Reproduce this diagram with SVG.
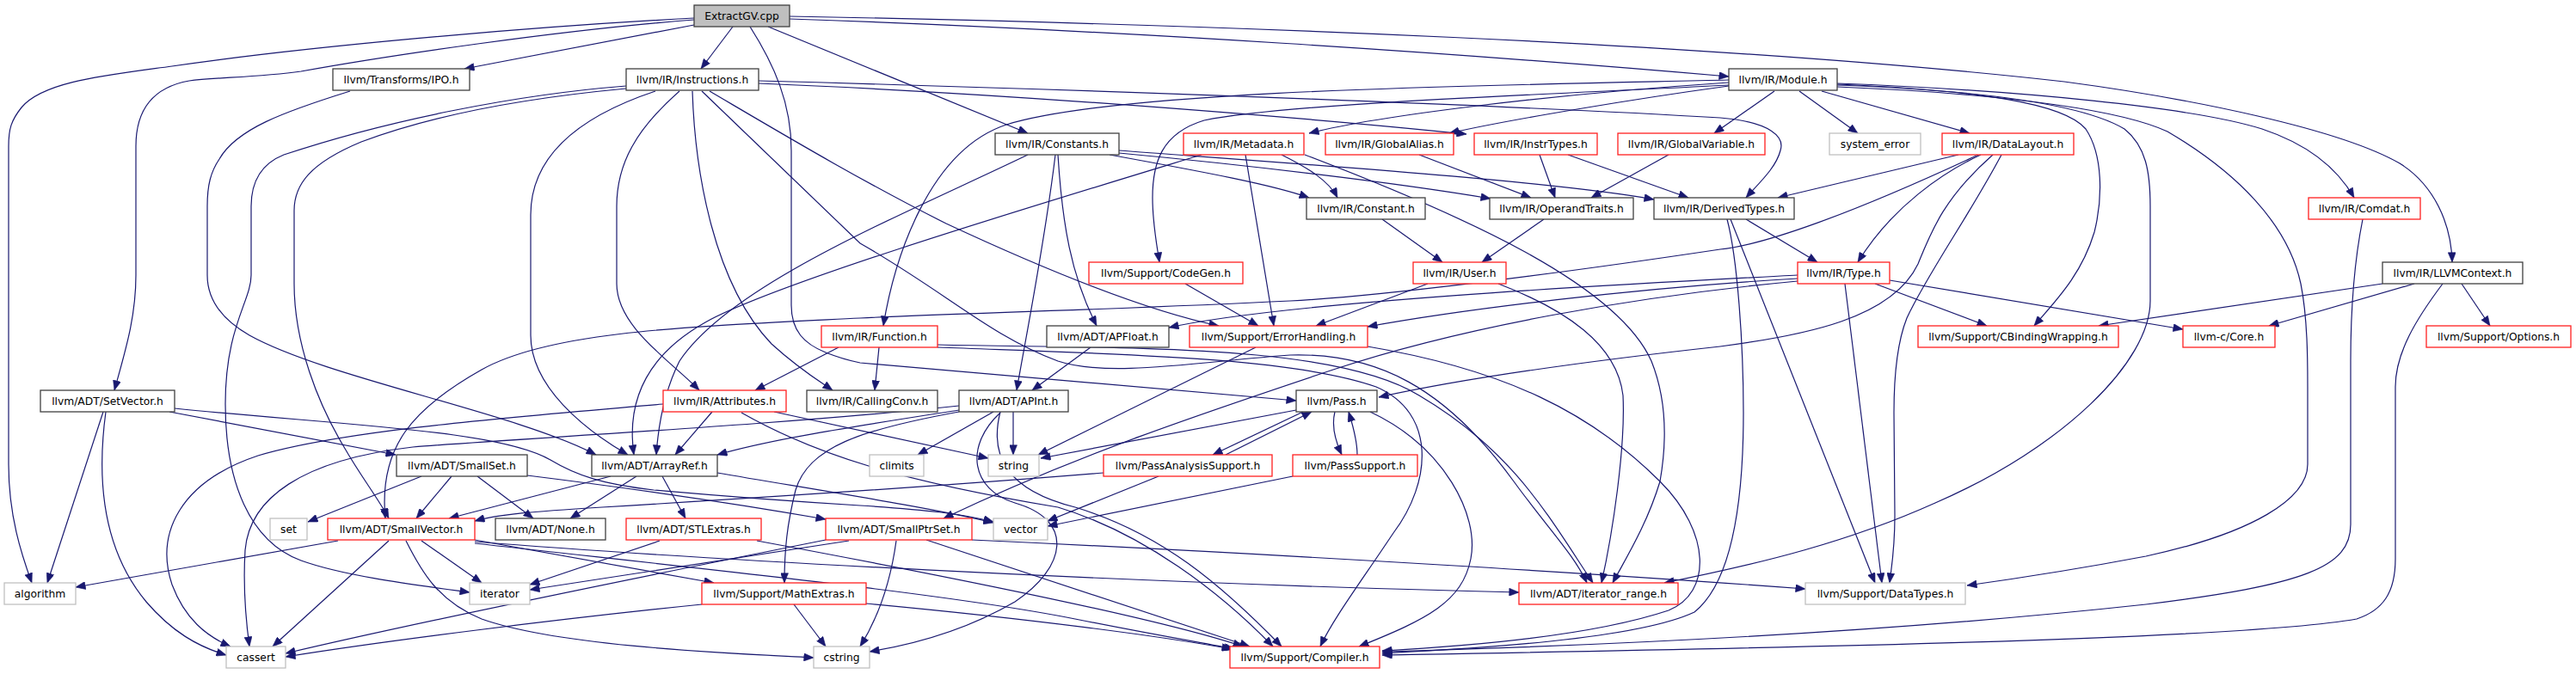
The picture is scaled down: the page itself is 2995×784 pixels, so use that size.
<svg xmlns="http://www.w3.org/2000/svg" width="2995" height="784" viewBox="0 0 2995 784">
<style>
.n rect{fill:#fff;stroke:#404040;stroke-width:1.3}
.r rect{stroke:#ff2020}
.g rect{stroke:#c0c0c0}
.root rect{fill:#bfbfbf}
text{font-family:"DejaVu Sans","Liberation Sans",sans-serif;font-size:12.3px;text-anchor:middle;fill:#000}
#edges path{fill:none;stroke:#191970;stroke-width:1.2;marker-end:url(#a)}
</style>
<defs>
<marker id="a" viewBox="0 0 10 8" refX="10" refY="4" markerWidth="12" markerHeight="9" markerUnits="userSpaceOnUse" orient="auto"><path d="M0,0 L10,4 L0,8 z" fill="#191970" stroke="#191970" stroke-width="0.5"/></marker>
</defs>
<rect width="2995" height="784" fill="#fff"/>
<g id="edges">
<path d="M807,21 C 600,32 350,55 200,77 C 120,88 50,95 25,125 C 13,140 10,150 10,170 L10,540 C10,600 25,645 37,678"/>
<path d="M807,23 C 650,35 450,65 350,83 C 300,90 250,90 220,94 C 175,102 158,130 158,170 L158,320 C158,370 145,410 133,454"/>
<path d="M807,29 L540,80"/>
<path d="M852,31 L815,80"/>
<path d="M872,31 C 900,75 920,120 920,175 L920,355 C 920,385 935,400 960,410 C 975,416 990,420 1000,422 L1507,466"/>
<path d="M893,31 L1195,155"/>
<path d="M918,22 C 1300,35 1700,62 2010,89"/>
<path d="M918,19 C 1400,28 2000,50 2400,95 C 2550,115 2720,150 2790,190 C 2830,215 2850,260 2851,305"/>
<path d="M407,106 C 330,130 275,150 255,185 C 245,200 241,215 241,240 L241,320 C 241,345 255,370 290,390 C 380,440 600,480 693,529"/>
<path d="M728,100 C 600,110 450,140 330,180 C 300,192 292,215 292,240 L292,320 C 292,350 262,380 262,470 C 262,560 290,630 350,652 C 400,670 480,680 546,689"/>
<path d="M728,103 C 600,115 500,135 420,165 C 360,190 342,215 342,245 L342,330 C 342,400 370,470 400,520 C 420,555 440,580 452,603"/>
<path d="M762,106 C 660,140 617,190 617,250 L617,390 C 617,450 680,500 730,529"/>
<path d="M790,106 C 740,150 717,190 717,240 L717,330 C 717,380 780,420 813,454"/>
<path d="M805,106 C 808,200 830,330 897,400 C 930,430 955,445 968,454"/>
<path d="M816,106 L1000,283 C 1100,340 1150,390 1230,420 C 1290,440 1400,420 1500,413 C 1600,410 1680,450 1760,560 C 1800,615 1830,645 1845,678"/>
<path d="M825,106 C 900,150 1000,210 1100,260 C 1250,330 1350,365 1417,379"/>
<path d="M882,94 C 1300,105 1800,125 2000,137 C 2060,142 2075,160 2070,175 C 2065,195 2045,213 2030,230"/>
<path d="M882,97 C 1200,110 1550,140 1705,156"/>
<path d="M2010,96 C 1800,110 1600,135 1522,155"/>
<path d="M2010,100 C 1900,115 1750,140 1685,155"/>
<path d="M2010,93 C 1700,100 1300,105 1170,145 C 1080,175 1040,300 1027,379"/>
<path d="M2010,99 C 1800,110 1500,120 1400,140 C 1350,155 1340,190 1340,230 C 1340,260 1345,285 1348,305"/>
<path d="M2063,106 L1993,155"/>
<path d="M2092,106 L2160,155"/>
<path d="M2118,106 L2290,155"/>
<path d="M2136,97 C 2350,105 2550,125 2630,150 C 2690,170 2720,200 2737,230"/>
<path d="M2136,101 C 2350,110 2470,130 2520,153 C 2600,200 2660,260 2675,330 C 2683,370 2683,420 2683,450 L2683,540 C 2683,580 2620,620 2495,647 C 2400,665 2330,675 2287,681"/>
<path d="M2136,98 C 2300,105 2400,120 2425,150 C 2445,180 2445,230 2435,270 C 2420,320 2390,350 2365,379"/>
<path d="M2136,99 C 2300,105 2420,120 2470,150 C 2495,170 2500,200 2500,240 L2500,350 C 2500,420 2400,520 2250,585 C 2150,630 2050,655 1935,678"/>
<path d="M1195,180 C 1050,250 850,330 790,420 C 770,460 765,500 763,529"/>
<path d="M1227,180 C 1215,280 1195,380 1182,454"/>
<path d="M1230,180 C 1235,260 1245,320 1275,379"/>
<path d="M1290,180 C 1400,200 1480,215 1522,230"/>
<path d="M1301,178 C 1450,192 1620,212 1733,231"/>
<path d="M1301,175 C 1500,190 1800,210 1923,232"/>
<path d="M1397,180 C 1200,240 900,330 820,375 C 740,420 730,480 737,529"/>
<path d="M1490,180 C 1520,195 1545,210 1555,230"/>
<path d="M1448,180 L1481,379"/>
<path d="M1517,180 C 1700,250 1880,330 1920,420 C 1940,470 1937,520 1930,560 C 1915,610 1890,650 1875,678"/>
<path d="M1650,180 L1780,230"/>
<path d="M1790,180 L1808,230"/>
<path d="M1823,180 L1963,230"/>
<path d="M1940,180 L1850,230"/>
<path d="M2277,180 L2067,230"/>
<path d="M2303,180 C 2260,200 2200,240 2160,305"/>
<path d="M2300,180 C 2150,250 2050,285 2000,290 C 1800,320 1600,345 1500,350 C 1300,360 1100,365 1000,370 C 800,380 640,385 560,430 C 480,475 440,520 448,603"/>
<path d="M2317,180 C 2260,230 2245,270 2230,307 C 2200,370 2100,390 2000,403 C 1800,425 1680,445 1603,462"/>
<path d="M2327,180 C 2290,250 2240,320 2217,370 C 2205,400 2202,440 2202,480 L2203,600 C 2203,640 2199,660 2197,678"/>
<path d="M2030,255 L2113,305"/>
<path d="M2008,255 C 2020,300 2027,400 2027,480 C 2027,600 2010,680 1970,712 C 1900,745 1700,755 1607,760"/>
<path d="M2012,255 L2180,678"/>
<path d="M2145,330 L2188,678"/>
<path d="M2180,330 L2310,379"/>
<path d="M2197,326 L2538,383"/>
<path d="M2090,320 C 1900,330 1500,350 1359,381"/>
<path d="M2090,324 C 1900,335 1700,360 1590,380"/>
<path d="M2090,327 C 1900,345 1700,380 1550,430 C 1400,480 1250,530 1097,603"/>
<path d="M2770,330 L2440,379"/>
<path d="M2807,330 L2638,379"/>
<path d="M2862,330 L2895,379"/>
<path d="M2840,330 C 2810,370 2785,410 2785,450 L2785,650 C 2785,690 2770,710 2740,720 C 2600,745 2000,755 1607,762"/>
<path d="M2747,255 C 2738,300 2733,360 2733,420 L2733,610 C 2733,660 2680,680 2495,703 C 2200,735 1900,750 1607,758"/>
<path d="M1378,330 L1463,379"/>
<path d="M1660,330 L1530,379"/>
<path d="M1742,330 C 1820,360 1880,400 1887,460 C 1890,520 1875,620 1862,678"/>
<path d="M1607,255 L1677,305"/>
<path d="M1795,255 L1723,305"/>
<path d="M975,404 L878,454"/>
<path d="M1022,404 L1017,454"/>
<path d="M1090,401 C 1300,406 1550,398 1650,460 C 1760,525 1800,600 1852,678"/>
<path d="M1090,404 C 1300,412 1500,415 1600,450 C 1670,480 1665,560 1620,620 C 1580,680 1550,720 1535,752"/>
<path d="M1268,404 L1200,454"/>
<path d="M1460,404 L1207,529"/>
<path d="M1590,403 C 1750,430 1850,480 1930,560 C 1990,620 1990,690 1940,710 C 1850,740 1700,752 1607,757"/>
<path d="M120,479 L55,678"/>
<path d="M123,479 C 112,560 120,640 170,700 C 200,735 230,752 263,762"/>
<path d="M197,479 L460,529"/>
<path d="M203,475 C 400,495 580,500 640,535 C 670,553 700,563 760,570 C 850,578 950,585 1000,588 C 1080,593 1120,598 1155,607"/>
<path d="M828,479 L785,529"/>
<path d="M771,470 C 600,485 400,500 300,530 C 210,560 180,620 200,680 C 215,720 240,740 268,752"/>
<path d="M900,479 L1149,533"/>
<path d="M862,480 C 950,530 1050,560 1230,590 C 1330,620 1420,690 1480,752"/>
<path d="M1115,477 C 1000,495 900,510 834,529"/>
<path d="M1178,479 L1178,529"/>
<path d="M1155,479 L1067,529"/>
<path d="M1163,480 C 1120,520 1130,570 1180,585 C 1250,605 1240,660 1180,700 C 1120,735 1060,750 1011,758"/>
<path d="M1115,479 C 1000,500 940,520 925,570 C 915,610 912,640 912,678"/>
<path d="M1115,472 C 900,495 600,510 480,520 C 350,535 290,580 285,640 C 282,690 287,730 290,752"/>
<path d="M1163,479 C 1150,530 1170,570 1250,590 C 1350,620 1420,680 1490,752"/>
<path d="M1507,477 L1210,533"/>
<path d="M1552,479 C 1548,495 1552,512 1560,529"/>
<path d="M1515,479 L1410,529"/>
<path d="M1593,479 C 1680,520 1720,600 1710,650 C 1700,700 1660,720 1580,752"/>
<path d="M1578,529 C 1578,512 1573,495 1568,479"/>
<path d="M1503,554 L1218,612"/>
<path d="M1425,529 L1525,479"/>
<path d="M1347,554 L1218,606"/>
<path d="M1283,550 C 1100,565 900,578 700,590 C 620,595 580,598 552,606"/>
<path d="M490,554 L358,607"/>
<path d="M525,554 L484,603"/>
<path d="M555,554 L620,603"/>
<path d="M613,553 C 750,570 880,590 960,604"/>
<path d="M710,554 L522,603"/>
<path d="M740,554 L663,603"/>
<path d="M770,554 L797,603"/>
<path d="M834,550 C 950,570 1080,590 1155,608"/>
<path d="M393,629 L88,683"/>
<path d="M452,629 L317,752"/>
<path d="M490,629 L560,678"/>
<path d="M472,629 C 490,665 510,700 560,720 C 650,752 850,760 946,765"/>
<path d="M552,628 L830,678"/>
<path d="M552,630 C 800,650 1300,678 1766,689"/>
<path d="M552,632 C 800,660 1100,690 1250,720 C 1350,740 1400,748 1435,755"/>
<path d="M767,629 L616,680"/>
<path d="M880,629 C 1100,670 1350,720 1445,752"/>
<path d="M987,629 L616,686"/>
<path d="M960,628 C 800,660 500,720 332,760"/>
<path d="M1042,629 C 1035,680 1020,720 1000,752"/>
<path d="M1077,628 L1453,752"/>
<path d="M1130,628 C 1500,645 1900,670 2099,685"/>
<path d="M816,703 C 650,720 450,745 332,764"/>
<path d="M923,703 L960,752"/>
<path d="M1007,702 C 1200,720 1350,740 1432,755"/>
</g>
<g id="n0" class="n root"><rect x="807" y="6" width="111" height="25"/><text x="862.5" y="23">ExtractGV.cpp</text></g>
<g id="n1" class="n"><rect x="387" y="80" width="159" height="25"/><text x="466.5" y="97">llvm/Transforms/IPO.h</text></g>
<g id="n2" class="n"><rect x="728" y="80" width="154" height="25"/><text x="805" y="97">llvm/IR/Instructions.h</text></g>
<g id="n3" class="n"><rect x="2010" y="80" width="126" height="25"/><text x="2073" y="97">llvm/IR/Module.h</text></g>
<g id="n4" class="n"><rect x="1157" y="155" width="144" height="25"/><text x="1229" y="172">llvm/IR/Constants.h</text></g>
<g id="n5" class="n r"><rect x="1376" y="155" width="140" height="25"/><text x="1446" y="172">llvm/IR/Metadata.h</text></g>
<g id="n6" class="n r"><rect x="1541" y="155" width="149" height="25"/><text x="1615.5" y="172">llvm/IR/GlobalAlias.h</text></g>
<g id="n7" class="n r"><rect x="1714" y="155" width="143" height="25"/><text x="1785.5" y="172">llvm/IR/InstrTypes.h</text></g>
<g id="n8" class="n r"><rect x="1881" y="155" width="171" height="25"/><text x="1966.5" y="172">llvm/IR/GlobalVariable.h</text></g>
<g id="n9" class="n g"><rect x="2127" y="155" width="106" height="25"/><text x="2180" y="172">system_error</text></g>
<g id="n10" class="n r"><rect x="2258" y="155" width="153" height="25"/><text x="2334.5" y="172">llvm/IR/DataLayout.h</text></g>
<g id="n11" class="n"><rect x="1519" y="230" width="138" height="25"/><text x="1588" y="247">llvm/IR/Constant.h</text></g>
<g id="n12" class="n"><rect x="1732" y="230" width="167" height="25"/><text x="1815.5" y="247">llvm/IR/OperandTraits.h</text></g>
<g id="n13" class="n"><rect x="1923" y="230" width="163" height="25"/><text x="2004.5" y="247">llvm/IR/DerivedTypes.h</text></g>
<g id="n14" class="n r"><rect x="2684" y="230" width="130" height="25"/><text x="2749" y="247">llvm/IR/Comdat.h</text></g>
<g id="n15" class="n r"><rect x="1266" y="305" width="179" height="25"/><text x="1355.5" y="322">llvm/Support/CodeGen.h</text></g>
<g id="n16" class="n r"><rect x="1643" y="305" width="108" height="25"/><text x="1697" y="322">llvm/IR/User.h</text></g>
<g id="n17" class="n r"><rect x="2090" y="305" width="107" height="25"/><text x="2143.5" y="322">llvm/IR/Type.h</text></g>
<g id="n18" class="n"><rect x="2770" y="305" width="163" height="25"/><text x="2851.5" y="322">llvm/IR/LLVMContext.h</text></g>
<g id="n19" class="n r"><rect x="955" y="379" width="135" height="25"/><text x="1022.5" y="396">llvm/IR/Function.h</text></g>
<g id="n20" class="n"><rect x="1217" y="379" width="142" height="25"/><text x="1288" y="396">llvm/ADT/APFloat.h</text></g>
<g id="n21" class="n r"><rect x="1383" y="379" width="207" height="25"/><text x="1486.5" y="396">llvm/Support/ErrorHandling.h</text></g>
<g id="n22" class="n r"><rect x="2230" y="379" width="233" height="25"/><text x="2346.5" y="396">llvm/Support/CBindingWrapping.h</text></g>
<g id="n23" class="n r"><rect x="2538" y="379" width="107" height="25"/><text x="2591.5" y="396">llvm-c/Core.h</text></g>
<g id="n24" class="n r"><rect x="2821" y="379" width="168" height="25"/><text x="2905" y="396">llvm/Support/Options.h</text></g>
<g id="n25" class="n"><rect x="47" y="454" width="156" height="25"/><text x="125" y="471">llvm/ADT/SetVector.h</text></g>
<g id="n26" class="n r"><rect x="771" y="454" width="143" height="25"/><text x="842.5" y="471">llvm/IR/Attributes.h</text></g>
<g id="n27" class="n"><rect x="938" y="454" width="152" height="25"/><text x="1014" y="471">llvm/IR/CallingConv.h</text></g>
<g id="n28" class="n"><rect x="1115" y="454" width="127" height="25"/><text x="1178.5" y="471">llvm/ADT/APInt.h</text></g>
<g id="n29" class="n"><rect x="1507" y="454" width="94" height="25"/><text x="1554" y="471">llvm/Pass.h</text></g>
<g id="n30" class="n"><rect x="461" y="529" width="152" height="25"/><text x="537" y="546">llvm/ADT/SmallSet.h</text></g>
<g id="n31" class="n"><rect x="688" y="529" width="146" height="25"/><text x="761" y="546">llvm/ADT/ArrayRef.h</text></g>
<g id="n32" class="n g"><rect x="1011" y="529" width="63" height="25"/><text x="1042.5" y="546">climits</text></g>
<g id="n33" class="n g"><rect x="1149" y="529" width="59" height="25"/><text x="1178.5" y="546">string</text></g>
<g id="n34" class="n r"><rect x="1283" y="529" width="196" height="25"/><text x="1381" y="546">llvm/PassAnalysisSupport.h</text></g>
<g id="n35" class="n r"><rect x="1503" y="529" width="145" height="25"/><text x="1575.5" y="546">llvm/PassSupport.h</text></g>
<g id="n36" class="n g"><rect x="314" y="603" width="43" height="25"/><text x="335.5" y="620">set</text></g>
<g id="n37" class="n r"><rect x="381" y="603" width="171" height="25"/><text x="466.5" y="620">llvm/ADT/SmallVector.h</text></g>
<g id="n38" class="n"><rect x="576" y="603" width="128" height="25"/><text x="640" y="620">llvm/ADT/None.h</text></g>
<g id="n39" class="n r"><rect x="728" y="603" width="157" height="25"/><text x="806.5" y="620">llvm/ADT/STLExtras.h</text></g>
<g id="n40" class="n r"><rect x="960" y="603" width="170" height="25"/><text x="1045" y="620">llvm/ADT/SmallPtrSet.h</text></g>
<g id="n41" class="n g"><rect x="1155" y="603" width="63" height="25"/><text x="1186.5" y="620">vector</text></g>
<g id="n42" class="n g"><rect x="5" y="678" width="83" height="25"/><text x="46.5" y="695">algorithm</text></g>
<g id="n43" class="n g"><rect x="546" y="678" width="70" height="25"/><text x="581" y="695">iterator</text></g>
<g id="n44" class="n r"><rect x="816" y="678" width="191" height="25"/><text x="911.5" y="695">llvm/Support/MathExtras.h</text></g>
<g id="n45" class="n r"><rect x="1766" y="678" width="185" height="25"/><text x="1858.5" y="695">llvm/ADT/iterator_range.h</text></g>
<g id="n46" class="n g"><rect x="2099" y="678" width="186" height="25"/><text x="2192" y="695">llvm/Support/DataTypes.h</text></g>
<g id="n47" class="n g"><rect x="263" y="752" width="69" height="25"/><text x="297.5" y="769">cassert</text></g>
<g id="n48" class="n g"><rect x="946" y="752" width="65" height="25"/><text x="978.5" y="769">cstring</text></g>
<g id="n49" class="n r"><rect x="1430" y="752" width="174" height="25"/><text x="1517" y="769">llvm/Support/Compiler.h</text></g>
</svg>
